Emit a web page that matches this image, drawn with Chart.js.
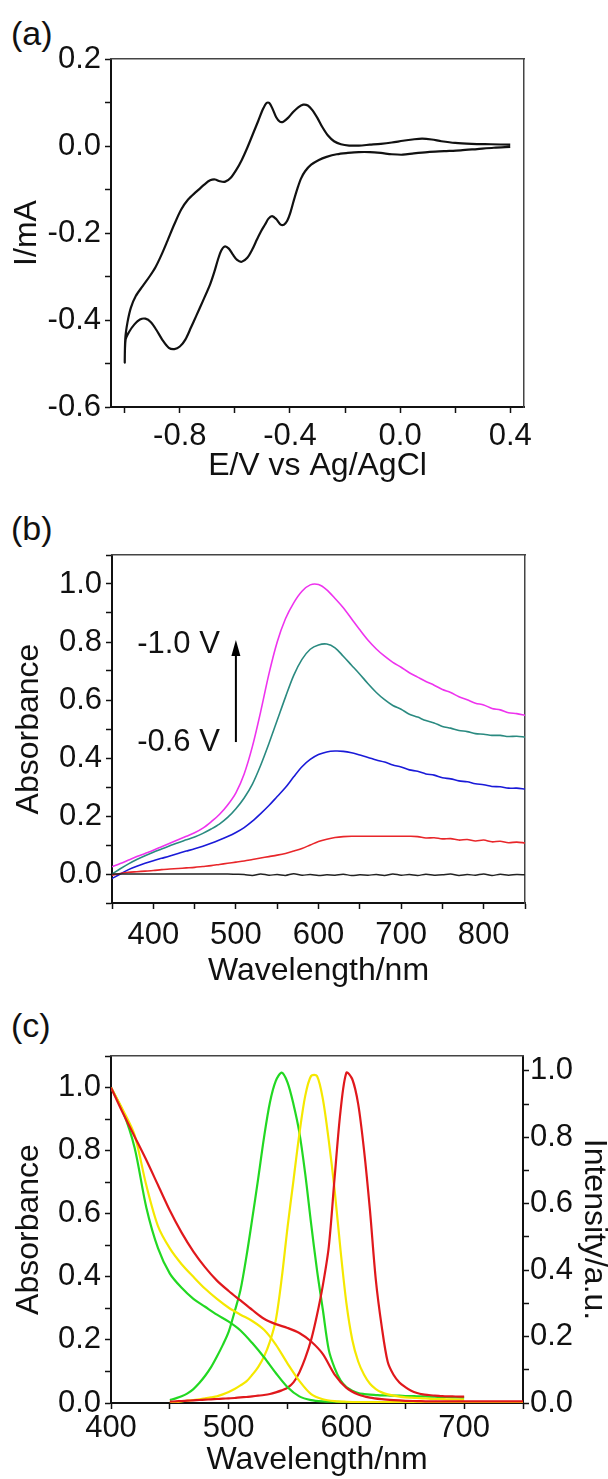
<!DOCTYPE html>
<html>
<head>
<meta charset="utf-8">
<script src="https://cdn.jsdelivr.net/npm/chart.js@4.4.1/dist/chart.umd.min.js"></script>
<style>
  html, body { margin: 0; padding: 0; background: #fff; }
  body { width: 608px; height: 1479px; position: relative; overflow: hidden;
         font-family: "Liberation Sans", Arial, Helvetica, sans-serif; }
  canvas { position: absolute; left: 0; }
  .panel-label { position: absolute; left: 11px; font-size: 34px; line-height: 34px; color: #111; }
</style>
</head>
<body>
  <div class="panel-label" style="top:16px">(a)</div>
  <div class="panel-label" style="top:511px">(b)</div>
  <div class="panel-label" style="top:1008px">(c)</div>
  <canvas id="chartA" width="608" height="490" style="top:0"></canvas>
  <canvas id="chartB" width="608" height="500" style="top:490px"></canvas>
  <canvas id="chartC" width="608" height="489" style="top:990px"></canvas>
<script>
  Chart.defaults.font.family = '"Liberation Sans", Arial, Helvetica, sans-serif';
  Chart.defaults.color = '#111';

  // (a) cyclic voltammogram: cathodic sweep 0.4 -> -1.0 V, then back to 0.4 V
  const cvPotential = [
    0.40, 0.34, 0.28, 0.22, 0.16, 0.10, 0.05, 0.01, -0.03, -0.07,
    -0.11, -0.15, -0.19, -0.23, -0.267, -0.295, -0.323, -0.345, -0.36, -0.373,
    -0.386, -0.398, -0.41, -0.422, -0.435, -0.45, -0.465, -0.478, -0.49, -0.505,
    -0.52, -0.537, -0.555, -0.575, -0.592, -0.608, -0.622, -0.637, -0.65, -0.662,
    -0.675, -0.69, -0.716, -0.74, -0.76, -0.78, -0.8, -0.82, -0.84, -0.863,
    -0.885, -0.905, -0.925, -0.945, -0.965, -0.985, -0.997, -1.0,
    -0.998, -0.99, -0.978, -0.96, -0.935, -0.91, -0.888, -0.868, -0.845, -0.82,
    -0.795, -0.77, -0.74, -0.71, -0.69, -0.672, -0.655, -0.635, -0.615, -0.595,
    -0.575, -0.555, -0.535, -0.515, -0.498, -0.485, -0.475, -0.463, -0.45, -0.437,
    -0.424, -0.408, -0.39, -0.37, -0.352, -0.335, -0.318, -0.3, -0.282, -0.262,
    -0.24, -0.215, -0.185, -0.15, -0.11, -0.07, -0.03, 0.01, 0.045, 0.08,
    0.115, 0.15, 0.2, 0.26, 0.33, 0.40
  ];
  const cvCurrent = [
    -0.002, -0.004, -0.007, -0.010, -0.012, -0.014, -0.017, -0.020, -0.019, -0.016,
    -0.014, -0.014, -0.016, -0.019, -0.025, -0.032, -0.043, -0.058, -0.075, -0.098,
    -0.125, -0.152, -0.172, -0.181, -0.180, -0.168, -0.161, -0.167, -0.180, -0.196,
    -0.215, -0.238, -0.257, -0.266, -0.262, -0.249, -0.236, -0.231, -0.241, -0.262,
    -0.290, -0.318, -0.356, -0.390, -0.418, -0.445, -0.461, -0.467, -0.464, -0.446,
    -0.423, -0.405, -0.397, -0.399, -0.410, -0.428, -0.445, -0.498,
    -0.442, -0.405, -0.372, -0.345, -0.322, -0.300, -0.278, -0.252, -0.218, -0.180,
    -0.146, -0.123, -0.105, -0.088, -0.079, -0.077, -0.081, -0.082, -0.073, -0.055,
    -0.032, -0.004, 0.027, 0.058, 0.085, 0.099, 0.099, 0.085, 0.066, 0.056,
    0.056, 0.064, 0.077, 0.089, 0.095, 0.093, 0.082, 0.064, 0.043, 0.024,
    0.011, 0.004, 0.001, 0.001, 0.003, 0.005, 0.008, 0.012, 0.015, 0.017,
    0.015, 0.011, 0.007, 0.005, 0.004, 0.003
  ];

  // (b) absorbance spectra while stepping the potential from -0.6 V to -1.0 V
  const specWavelength = [
    350, 360, 370, 380, 390, 400, 410, 420, 430, 440, 450, 460, 470, 480, 490, 500, 510,
    520, 530, 540, 550, 560, 570, 580, 590, 600, 610, 620, 630, 640, 650, 660, 670,
    680, 690, 700, 710, 720, 730, 740, 750, 760, 770, 780, 790, 800, 810, 820, 830,
    840, 850
  ];
  const absMinus10 = [
    0.025, 0.036, 0.048, 0.060, 0.071, 0.082, 0.094, 0.106, 0.118, 0.130, 0.142, 0.158, 0.180,
    0.205, 0.238, 0.280, 0.345, 0.440, 0.560, 0.690, 0.800, 0.880, 0.935, 0.975, 0.997, 0.998,
    0.980, 0.950, 0.918, 0.880, 0.842, 0.806, 0.776, 0.751, 0.730, 0.713, 0.694, 0.679, 0.664,
    0.651, 0.636, 0.626, 0.611, 0.601, 0.589, 0.583, 0.571, 0.566, 0.556, 0.553, 0.547
  ];
  const absMinus09 = [
    0.000, 0.018, 0.035, 0.050, 0.063, 0.075, 0.086, 0.097, 0.108, 0.118, 0.128, 0.140, 0.155,
    0.172, 0.195, 0.225, 0.262, 0.310, 0.375, 0.450, 0.530, 0.610, 0.685, 0.740, 0.775, 0.790,
    0.793, 0.780, 0.751, 0.720, 0.689, 0.656, 0.626, 0.601, 0.581, 0.568, 0.551, 0.541, 0.529,
    0.521, 0.509, 0.503, 0.495, 0.491, 0.484, 0.482, 0.478, 0.478, 0.474, 0.475, 0.472
  ];
  const absMinus08 = [
    -0.016, 0.000, 0.015, 0.027, 0.037, 0.046, 0.054, 0.062, 0.071, 0.079, 0.087, 0.096, 0.106,
    0.117, 0.129, 0.143, 0.160, 0.182, 0.208, 0.236, 0.267, 0.298, 0.335, 0.370, 0.395, 0.412,
    0.421, 0.424, 0.423, 0.418, 0.410, 0.402, 0.393, 0.386, 0.376, 0.369, 0.359, 0.354, 0.345,
    0.341, 0.332, 0.328, 0.321, 0.318, 0.311, 0.308, 0.302, 0.301, 0.296, 0.296, 0.293
  ];
  const absMinus07 = [
    -0.004, 0.002, 0.006, 0.008, 0.010, 0.012, 0.015, 0.017, 0.019, 0.021, 0.023, 0.026, 0.029,
    0.033, 0.037, 0.041, 0.045, 0.050, 0.055, 0.060, 0.065, 0.071, 0.079, 0.088, 0.100, 0.112,
    0.120, 0.126, 0.129, 0.130, 0.130, 0.130, 0.130, 0.130, 0.130, 0.130, 0.130, 0.129, 0.124,
    0.125, 0.121, 0.122, 0.117, 0.119, 0.114, 0.117, 0.111, 0.113, 0.108, 0.110, 0.107
  ];
  const absMinus06 = [
    0.000, 0.000, 0.000, 0.000, 0.000, 0.000, 0.000, 0.000, 0.000, 0.000, 0.000, 0.000, 0.000,
    0.000, 0.000, -0.001, -0.002, -0.005, 0.000, -0.004, -0.002, -0.005, 0.001, -0.004, -0.002,
    -0.005, -0.003, -0.004, -0.001, -0.005, -0.003, -0.004, -0.002, -0.005, 0.000, -0.004,
    -0.002, -0.005, -0.001, -0.004, -0.003, 0.000, -0.005, -0.002, -0.004, 0.000, -0.005,
    -0.001, -0.004, -0.002, -0.003
  ];
  const arrowWavelength = 500;
  const arrowFrom = 0.455;
  const arrowTo = 0.807;

  // (c) absorption (left axis) and emission (right axis) spectra
  const absWavelength = [
    400, 410, 420, 430, 440, 450, 460, 470, 480, 490, 500, 510, 520, 530, 540, 550, 560, 570,
    580, 590, 600, 610, 620, 630, 640, 650, 660, 670, 680, 690, 700, 710, 720, 730, 740, 750
  ];
  const absGreen = [
    1.000, 0.925, 0.810, 0.620, 0.490, 0.410, 0.365, 0.330, 0.305, 0.280, 0.258, 0.230, 0.190,
    0.145, 0.095, 0.050, 0.021, 0.009, 0.005, 0.004, 0.003, 0.003, 0.003, 0.003, 0.003, 0.003,
    0.003, 0.003, 0.003, 0.003, 0.003, 0.003, 0.003, 0.003, 0.003, 0.003
  ];
  const absYellow = [
    1.000, 0.930, 0.850, 0.690, 0.560, 0.490, 0.440, 0.400, 0.362, 0.330, 0.302, 0.280, 0.260,
    0.232, 0.185, 0.125, 0.070, 0.028, 0.012, 0.006, 0.004, 0.003, 0.003, 0.003, 0.003, 0.003,
    0.003, 0.003, 0.003, 0.003, 0.003, 0.003, 0.003, 0.003, 0.003, 0.003
  ];
  const absRed = [
    1.000, 0.920, 0.845, 0.770, 0.690, 0.610, 0.540, 0.480, 0.430, 0.388, 0.355, 0.325, 0.295,
    0.267, 0.250, 0.238, 0.222, 0.195, 0.155, 0.090, 0.048, 0.027, 0.017, 0.012, 0.009, 0.007,
    0.006, 0.005, 0.005, 0.005, 0.005, 0.005, 0.005, 0.005, 0.005, 0.005
  ];
  const emWavelength = [
    450, 455, 460, 465, 470, 475, 480, 485, 490, 495, 500, 505, 510, 515, 520, 525, 530, 535,
    540, 545, 550, 555, 560, 565, 570, 575, 580, 585, 590, 595, 600, 605, 610, 615, 620, 625,
    630, 635, 640, 645, 650, 655, 660, 665, 670, 675, 680, 685, 690, 695, 700
  ];
  const emGreen = [
    0.009, 0.014, 0.020, 0.029, 0.042, 0.060, 0.082, 0.108, 0.140, 0.175, 0.215, 0.275, 0.340,
    0.440, 0.555, 0.675, 0.800, 0.905, 0.970, 0.995, 0.965, 0.900, 0.815, 0.690, 0.540, 0.400,
    0.280, 0.160, 0.105, 0.068, 0.048, 0.037, 0.030, 0.027, 0.025, 0.024, 0.023, 0.023, 0.022,
    0.022, 0.021, 0.021, 0.020, 0.020, 0.019, 0.019, 0.018, 0.018, 0.017, 0.017, 0.016
  ];
  const emYellow = [
    0.002, 0.003, 0.005, 0.007, 0.009, 0.011, 0.014, 0.017, 0.020, 0.026, 0.033, 0.042, 0.053,
    0.065, 0.085, 0.108, 0.140, 0.185, 0.250, 0.375, 0.530, 0.670, 0.810, 0.925, 0.985, 0.985,
    0.915, 0.790, 0.640, 0.460, 0.300, 0.190, 0.125, 0.085, 0.058, 0.042, 0.032, 0.026, 0.022,
    0.019, 0.017, 0.016, 0.015, 0.014, 0.013, 0.012, 0.012, 0.011, 0.011, 0.010, 0.010
  ];
  const emRed = [
    0.004, 0.005, 0.006, 0.007, 0.008, 0.009, 0.010, 0.011, 0.012, 0.013, 0.014, 0.015, 0.017,
    0.018, 0.020, 0.022, 0.024, 0.027, 0.032, 0.038, 0.046, 0.062, 0.092, 0.135, 0.190, 0.265,
    0.355, 0.470, 0.680, 0.880, 0.995, 0.975, 0.900, 0.760, 0.580, 0.370, 0.230, 0.125, 0.085,
    0.062, 0.048, 0.037, 0.030, 0.026, 0.024, 0.022, 0.021, 0.020, 0.020, 0.019, 0.019
  ];

  function points(xs, ys) {
    return xs.map((x, i) => ({ x: x, y: ys[i] }));
  }

  function labelEvery(step, digits) {
    return function (v) {
      const k = Math.round(v / step);
      if (Math.abs(k * step - v) > 1e-6) return '';
      return (Math.abs(v) < 1e-9 ? 0 : v).toFixed(digits);
    };
  }

  function line(values, color, width) {
    return { data: values, borderColor: color, borderWidth: width, pointRadius: 0, tension: 0.3, fill: false };
  }

  // axis with ticks outside, labels only on major steps, fixed box size
  function axis(c) {
    return {
      type: 'linear', position: c.position, axis: c.axis, min: c.min, max: c.max,
      afterFit: s => { if (s.isHorizontal()) s.height = c.size; else s.width = c.size; },
      border: { display: true, color: '#111', width: 2 },
      grid: { display: true, drawOnChartArea: false, drawTicks: true, tickLength: 6, tickColor: '#111', tickWidth: 1.5 },
      ticks: {
        stepSize: c.step, includeBounds: false, autoSkip: false, maxRotation: 0, minRotation: 0,
        padding: c.tickPad, color: '#111', font: { size: 31 }, callback: labelEvery(c.labelStep, c.digits)
      },
      title: { display: true, text: c.title, color: '#111', font: { size: 32 }, padding: { top: c.titlePad, bottom: c.titlePad } }
    };
  }

  // plain frame line for the top / right sides
  function frame(position, min, max) {
    return {
      type: 'linear', position: position, axis: position === 'top' ? 'x' : 'y', min: min, max: max,
      afterFit: s => { if (s.isHorizontal()) s.height = 0; else s.width = 0; },
      border: { display: true, color: '#444', width: 1.5 },
      grid: { display: false }, ticks: { display: false }
    };
  }

  function baseOptions(padding, scales) {
    return {
      responsive: false, animation: false, events: [],
      layout: { padding: padding },
      plugins: { legend: { display: false }, tooltip: { enabled: false } },
      scales: scales
    };
  }

  new Chart(document.getElementById('chartA'), {
    type: 'line',
    data: { datasets: [line(points(cvPotential, cvCurrent), '#111', 2.2)] },
    options: baseOptions({ top: 59, right: 84, left: 0, bottom: 0 }, {
      x: axis({ position: 'bottom', axis: 'x', min: -1.05, max: 0.45, step: 0.2, labelStep: 0.4, digits: 1,
                size: 83, tickPad: 5, title: 'E/V vs Ag/AgCl', titlePad: 5 }),
      y: axis({ position: 'left', axis: 'y', min: -0.6, max: 0.2, step: 0.1, labelStep: 0.2, digits: 1,
                size: 111, tickPad: 4, title: 'I/mA', titlePad: 8 }),
      xTop: frame('top', -1.05, 0.45),
      yRight: frame('right', -0.6, 0.2)
    })
  });

  const arrowPlugin = {
    id: 'potentialArrow',
    afterDatasetsDraw(chart) {
      const { ctx, scales } = chart;
      const ax = scales.x.getPixelForValue(arrowWavelength);
      const y0 = scales.y.getPixelForValue(arrowFrom);
      const y1 = scales.y.getPixelForValue(arrowTo);
      ctx.save();
      ctx.strokeStyle = '#000';
      ctx.fillStyle = '#000';
      ctx.lineWidth = 2;
      ctx.beginPath();
      ctx.moveTo(ax, y0);
      ctx.lineTo(ax, y1 + 10);
      ctx.stroke();
      ctx.beginPath();
      ctx.moveTo(ax, y1);
      ctx.lineTo(ax - 4.5, y1 + 16);
      ctx.lineTo(ax + 4.5, y1 + 16);
      ctx.closePath();
      ctx.fill();
      ctx.font = '31px "Liberation Sans", Arial, sans-serif';
      ctx.textAlign = 'right';
      ctx.textBaseline = 'middle';
      ctx.fillStyle = '#111';
      ctx.fillText('-1.0 V', ax - 16, scales.y.getPixelForValue(0.79));
      ctx.fillText('-0.6 V', ax - 16, scales.y.getPixelForValue(0.455));
      ctx.restore();
    }
  };

  new Chart(document.getElementById('chartB'), {
    type: 'line',
    data: {
      datasets: [
        line(points(specWavelength, absMinus06), '#222222', 1.5),
        line(points(specWavelength, absMinus07), '#e8262a', 1.6),
        line(points(specWavelength, absMinus08), '#1a1ad8', 1.6),
        line(points(specWavelength, absMinus09), '#2a8a80', 1.6),
        line(points(specWavelength, absMinus10), '#ee33ee', 1.6)
      ]
    },
    options: baseOptions({ top: 65, right: 83, left: 0, bottom: 0 }, {
      x: axis({ position: 'bottom', axis: 'x', min: 350, max: 850, step: 50, labelStep: 100, digits: 0,
                size: 87, tickPad: 8, title: 'Wavelength/nm', titlePad: 0 }),
      y: axis({ position: 'left', axis: 'y', min: -0.1, max: 1.1, step: 0.1, labelStep: 0.2, digits: 1,
                size: 112, tickPad: 4, title: 'Absorbance', titlePad: 10 }),
      xTop: frame('top', 350, 850),
      yRight: frame('right', -0.1, 1.1)
    }),
    plugins: [arrowPlugin]
  });

  const yIntensity = axis({ position: 'right', axis: 'y', min: 0, max: 1.045, step: 0.1, labelStep: 0.2, digits: 1,
                            size: 85, tickPad: 1, title: 'Intensity/a.u.', titlePad: -5 });

  new Chart(document.getElementById('chartC'), {
    type: 'line',
    data: {
      datasets: [
        Object.assign(line(points(absWavelength, absRed), '#e0181c', 2.2), { yAxisID: 'y' }),
        Object.assign(line(points(absWavelength, absYellow), '#f5e800', 2.2), { yAxisID: 'y' }),
        Object.assign(line(points(absWavelength, absGreen), '#22d822', 2.2), { yAxisID: 'y' }),
        Object.assign(line(points(emWavelength, emRed), '#e0181c', 2.2), { yAxisID: 'y2' }),
        Object.assign(line(points(emWavelength, emYellow), '#f5e800', 2.2), { yAxisID: 'y2' }),
        Object.assign(line(points(emWavelength, emGreen), '#22d822', 2.2), { yAxisID: 'y2' })
      ]
    },
    options: baseOptions({ top: 66, right: 0, left: 0, bottom: 0 }, {
      x: axis({ position: 'bottom', axis: 'x', min: 400, max: 750, step: 50, labelStep: 100, digits: 0,
                size: 76, tickPad: 1, title: 'Wavelength/nm', titlePad: 0 }),
      y: axis({ position: 'left', axis: 'y', min: 0, max: 1.1, step: 0.1, labelStep: 0.2, digits: 1,
                size: 111, tickPad: 4, title: 'Absorbance', titlePad: 10 }),
      y2: yIntensity,
      xTop: frame('top', 400, 750)
    })
  });
</script>
</body>
</html>
